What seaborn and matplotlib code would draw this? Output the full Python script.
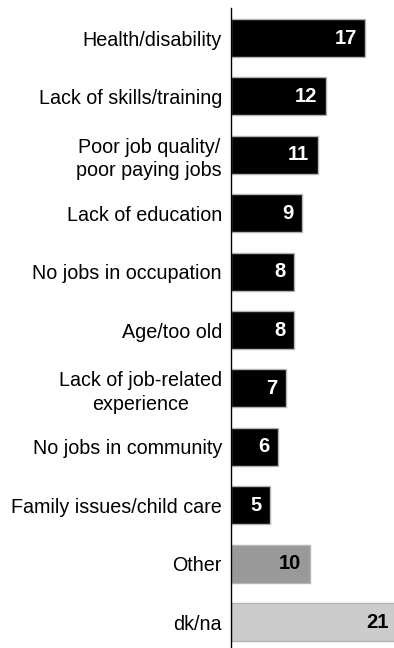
import matplotlib
matplotlib.use("Agg")
import matplotlib.pyplot as plt
import seaborn as sns
import pandas as pd

categories = [
    "Health/disability",
    "Lack of skills/training",
    "Poor job quality/\npoor paying jobs",
    "Lack of education",
    "No jobs in occupation",
    "Age/too old",
    "Lack of job-related\nexperience",
    "No jobs in community",
    "Family issues/child care",
    "Other",
    "dk/na",
]
values = [17, 12, 11, 9, 8, 8, 7, 6, 5, 10, 21]
groups = ["reason"] * 9 + ["other", "dkna"]

group_colors = {"reason": "#000000", "other": "#999999", "dkna": "#cccccc"}
text_colors = {"reason": "white", "other": "black", "dkna": "black"}

sns.set_theme(style="white")
plt.rcParams["font.family"] = ["Liberation Sans Narrow", "Liberation Sans", "DejaVu Sans"]

df = pd.DataFrame({"category": categories, "value": values, "group": groups})

W, H = 394, 648
fig = plt.figure(figsize=(W / 100, H / 100), dpi=100)
ax_left = 231
px_per_unit = 7.88
xmax = 21.2
ax = fig.add_axes([ax_left / W, 0, xmax * px_per_unit / W, 640 / H])

sns.barplot(
    data=df, x="value", y="category", hue="group", palette=group_colors,
    orient="h", width=0.65, edgecolor="#b5b5b5", linewidth=1.0,
    legend=False, ax=ax, dodge=False,
)

ax.set_xlim(0, xmax)
ax.set_ylim(10.445, -0.514)
ax.set_xlabel("")
ax.set_ylabel("")
ax.set_xticks([])
ax.tick_params(axis="y", length=0, pad=6.5, labelsize=14.2, labelcolor="black")
for lbl in ax.get_yticklabels():
    lbl.set_multialignment("center")
    lbl.set_linespacing(1.3)

for s in ["top", "right", "bottom"]:
    ax.spines[s].set_visible(False)
ax.spines["left"].set_color("black")
ax.spines["left"].set_linewidth(1.0)

for i, (v, g) in enumerate(zip(values, groups)):
    ax.annotate(
        f"{v}", xy=(v, i), xytext=(-6, 0), textcoords="offset points",
        ha="right", va="center", fontsize=14.5, fontweight="bold",
        color=text_colors[g],
    )

fig.savefig("out.png", dpi=100)
